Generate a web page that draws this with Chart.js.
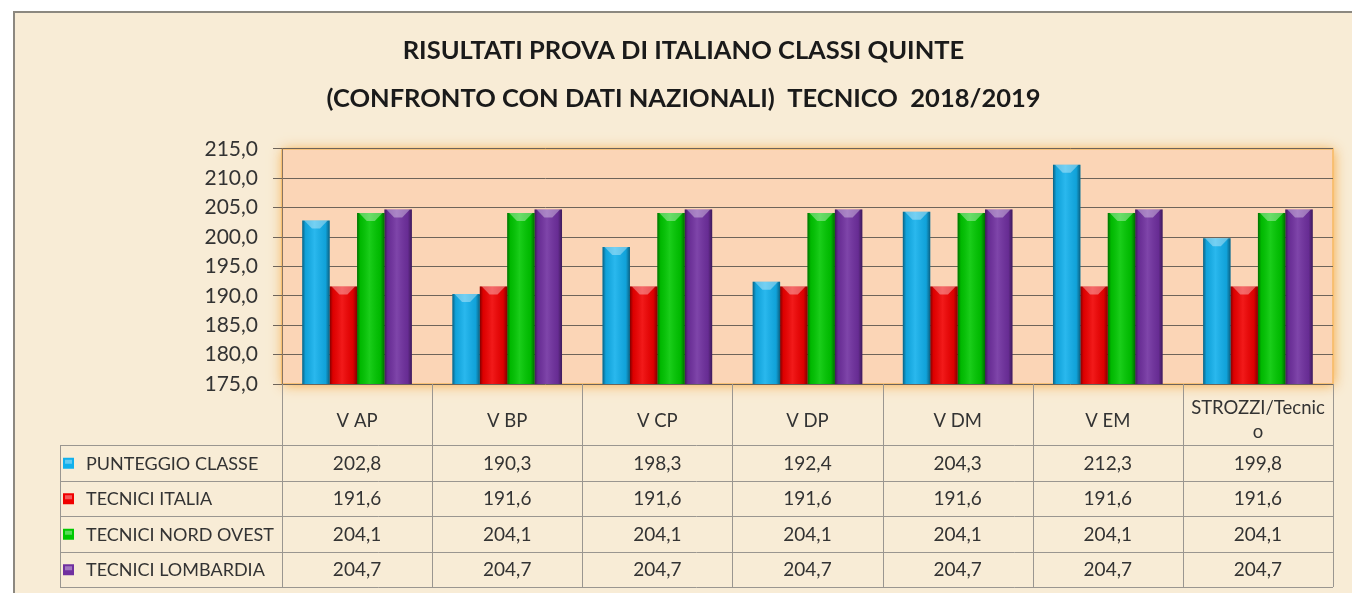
<!DOCTYPE html>
<html>
<head>
<meta charset="utf-8">
<script src="https://cdn.jsdelivr.net/npm/chart.js@4.4.1/dist/chart.umd.min.js"></script>
<style>
  html, body { margin: 0; padding: 0; background: #fff; }
  #wrap { width: 1352px; height: 593px; position: relative; }
</style>
</head>
<body>
<div id="wrap"><canvas id="chart" width="1352" height="593"></canvas></div>
<script>
const titleLines = ['RISULTATI PROVA DI ITALIANO CLASSI QUINTE', '(CONFRONTO CON DATI NAZIONALI)  TECNICO  2018/2019'];
const categories = ['V AP', 'V BP', 'V CP', 'V DP', 'V DM', 'V EM', ['STROZZI/Tecnic', 'o']];
const seriesNames = ['PUNTEGGIO CLASSE', 'TECNICI ITALIA', 'TECNICI NORD OVEST', 'TECNICI LOMBARDIA'];
const punteggioClasse = [202.8, 190.3, 198.3, 192.4, 204.3, 212.3, 199.8];
const tecniciItalia = [191.6, 191.6, 191.6, 191.6, 191.6, 191.6, 191.6];
const tecniciNordOvest = [204.1, 204.1, 204.1, 204.1, 204.1, 204.1, 204.1];
const tecniciLombardia = [204.7, 204.7, 204.7, 204.7, 204.7, 204.7, 204.7];
const barColors = ['#12b0ec', '#f00000', '#00c800', '#7030a0'];

const FONT = 'Lato, "Open Sans", sans-serif';
const fmt = v => v.toFixed(1).replace('.', ',');

// parchment, frame and plot area background
const backdrop = {
  id: 'backdrop',
  beforeDraw(chart) {
    const c = chart.ctx, a = chart.chartArea;
    c.save();
    c.fillStyle = '#ffffff';
    c.fillRect(0, 0, chart.width, chart.height);
    c.fillStyle = '#f8ecd6';
    c.fillRect(14, 12, chart.width, chart.height);
    c.strokeStyle = '#8c8880';
    c.lineWidth = 2;
    c.strokeRect(14, 12, chart.width + 10, chart.height + 10);
    c.shadowColor = 'rgba(246,165,60,0.95)';
    c.shadowBlur = 12;
    c.shadowOffsetX = 1;
    c.shadowOffsetY = 1;
    c.fillStyle = '#fbd5b6';
    c.fillRect(a.left, a.top, a.right - a.left, a.bottom - a.top);
    c.shadowBlur = 0;
    c.shadowOffsetX = 0;
    c.shadowOffsetY = 0;
    c.strokeStyle = 'rgba(247,190,110,0.9)';
    c.lineWidth = 2;
    c.strokeRect(a.left, a.top, a.right - a.left, a.bottom - a.top);
    c.restore();
  }
};

// bevel / cylinder shading on top of the bars
const barShade = {
  id: 'barShade',
  afterDatasetsDraw(chart) {
    const c = chart.ctx, a = chart.chartArea;
    c.save();
    c.beginPath();
    c.rect(a.left, a.top, a.right - a.left, a.bottom - a.top);
    c.clip();
    chart.data.datasets.forEach((ds, di) => {
      chart.getDatasetMeta(di).data.forEach(el => {
        const p = el.getProps(['x', 'y', 'base', 'width'], true);
        const l = p.x - p.width / 2, r = p.x + p.width / 2;
        const bottom = Math.min(p.base, a.bottom);
        const g = c.createLinearGradient(l, 0, r, 0);
        g.addColorStop(0, 'rgba(0,0,0,0.45)');
        g.addColorStop(0.12, 'rgba(0,0,0,0.08)');
        g.addColorStop(0.45, 'rgba(255,255,255,0.10)');
        g.addColorStop(0.85, 'rgba(0,0,0,0.08)');
        g.addColorStop(1, 'rgba(0,0,0,0.45)');
        c.fillStyle = g;
        c.fillRect(l, p.y, p.width, bottom - p.y);
        c.fillStyle = 'rgba(255,255,255,0.35)';
        c.beginPath();
        c.moveTo(l + 2, p.y);
        c.lineTo(r - 2, p.y);
        c.lineTo(p.x + 4, p.y + 8);
        c.lineTo(p.x - 4, p.y + 8);
        c.closePath();
        c.fill();
      });
    });
    c.restore();
  }
};

// data table under the plot, built from the same arrays
const dataTable = {
  id: 'dataTable',
  afterDraw(chart) {
    const c = chart.ctx, a = chart.chartArea, xs = chart.scales.x;
    const n = categories.length;
    const colW = (a.right - a.left) / n;
    const headBottom = 445, rowH = 35.5, tableLeft = 60;
    const rows = chart.data.datasets.length;
    const tableBottom = headBottom + rows * rowH;
    c.save();
    c.strokeStyle = '#9a9690';
    c.lineWidth = 1;
    c.beginPath();
    for (let i = 0; i <= n; i++) {
      const x = Math.round(a.left + i * colW) + 0.5;
      c.moveTo(x, a.bottom);
      c.lineTo(x, tableBottom);
    }
    for (let r = 0; r <= rows; r++) {
      const y = Math.round(headBottom + r * rowH) + 0.5;
      c.moveTo(tableLeft, y);
      c.lineTo(a.right, y);
    }
    c.moveTo(tableLeft + 0.5, headBottom);
    c.lineTo(tableLeft + 0.5, tableBottom);
    c.stroke();

    c.fillStyle = '#333';
    c.font = '18.5px ' + FONT;
    c.textAlign = 'center';
    c.textBaseline = 'middle';
    categories.forEach((lab, i) => {
      const x = xs.getPixelForValue(i);
      if (Array.isArray(lab)) {
        c.fillText(lab[0], x, 408);
        c.fillText(lab[1], x, 432);
      } else {
        c.fillText(lab, x, 421);
      }
    });

    chart.data.datasets.forEach((ds, r) => {
      const cy = headBottom + r * rowH + rowH / 2;
      c.fillStyle = ds.backgroundColor;
      c.fillRect(63, cy - 5, 11, 11);
      c.fillStyle = 'rgba(255,255,255,0.35)';
      c.fillRect(65, cy - 3, 7, 4);
      c.fillStyle = '#333';
      c.textAlign = 'left';
      c.font = '18px ' + FONT;
      c.fillText(ds.label, 86, cy + 1);
      c.textAlign = 'center';
      c.font = '19px ' + FONT;
      ds.data.forEach((v, i) => {
        c.fillText(fmt(v), xs.getPixelForValue(i), cy + 1);
      });
    });
    c.restore();
  }
};

const ctx = document.getElementById('chart').getContext('2d');
const chart = new Chart(ctx, {
  type: 'bar',
  data: {
    labels: categories,
    datasets: [
      { label: seriesNames[0], data: punteggioClasse, backgroundColor: barColors[0] },
      { label: seriesNames[1], data: tecniciItalia, backgroundColor: barColors[1] },
      { label: seriesNames[2], data: tecniciNordOvest, backgroundColor: barColors[2] },
      { label: seriesNames[3], data: tecniciLombardia, backgroundColor: barColors[3] }
    ]
  },
  options: {
    responsive: false,
    animation: false,
    devicePixelRatio: 1,
    layout: { padding: { top: 0, left: 34, right: 19, bottom: 209 } },
    datasets: { bar: { categoryPercentage: 0.73, barPercentage: 1.0, borderWidth: 0 } },
    plugins: {
      legend: { display: false },
      tooltip: { enabled: false },
      title: {
        display: true,
        text: titleLines,
        color: '#1a1a1a',
        font: { family: FONT, size: 25.5, weight: 'bold', lineHeight: 1.88 },
        padding: { top: 27, bottom: 26 }
      }
    },
    scales: {
      x: { display: false },
      y: {
        min: 175,
        max: 215,
        afterFit: function(scale) { scale.width = 248; },
        ticks: {
          stepSize: 5,
          padding: 15,
          color: '#333',
          font: { family: FONT, size: 21 },
          callback: function(v) { return fmt(v); }
        },
        grid: { color: '#6e645a', lineWidth: 1, tickLength: 9 },
        border: { display: true, color: '#8a7560', width: 1 }
      }
    }
  },
  plugins: [backdrop, barShade, dataTable]
});
</script>
</body>
</html>
